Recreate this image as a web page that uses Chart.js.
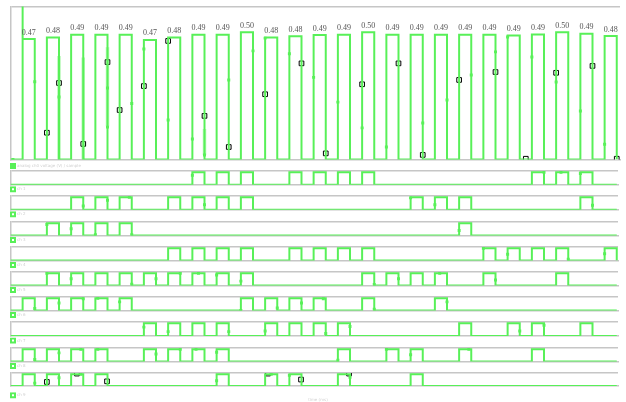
<!DOCTYPE html>
<html><head><meta charset="utf-8">
<script src="https://cdn.jsdelivr.net/npm/chart.js@4/dist/chart.umd.min.js"></script>
<style>
html,body{margin:0;padding:0;background:#fff;width:626px;height:402px;overflow:hidden}
#wrap{position:relative;width:626px;height:402px}
canvas{position:absolute;left:0}
</style></head><body>
<div id="wrap"></div>
<script>
// ---------- data ----------
const pulseLevels = [0.4725,0.478,0.489,0.489,0.489,0.469,0.478,0.489,0.489,0.499,0.478,0.483,0.488,0.489,0.499,0.489,0.489,0.489,0.489,0.489,0.486,0.490,0.499,0.493,0.484];
const pulseLabels = ['0.47','0.48','0.49','0.49','0.49','0.47','0.48','0.49','0.49','0.50','0.48','0.48','0.49','0.49','0.50','0.49','0.49','0.49','0.49','0.49','0.49','0.49','0.50','0.49','0.48'];
const spikeLevel = 0.62;
const greenTop = [[0.1,0],[1,0.305],[2,0.245],[4,0.28],[4,0.127],[5,0.22],[5.5,0.433],[6.5,0.155],[7.5,0.08],[8,0.018],[9,0.312],[10,0.426],[10.5,0.476],[11.5,0.415],[12.5,0.322],[13.5,0.225],[14.5,0.124],[15.5,0.049],[17,0.143],[18,0.233],[19,0.331],[20,0.422],[20.5,0.48],[21.5,0.402],[22.5,0.304],[23.5,0.19],[24.5,0.06]];
const blackTop = [[1.5,0.105],[2,0.30],[3,0.061],[4,0.382],[4.5,0.194],[5.5,0.288],[6.5,0.465],[8,0.171],[9,0.049],[10.5,0.256],[12,0.377],[13,0.024],[14.5,0.295],[16,0.377],[17,0.018],[18.5,0.312],[20,0.343],[21.25,0.003],[22.5,0.34],[24,0.367],[25,0.003]];
const topRanges = [[2,0,0.406],[3,0,0.40],[4,0.13,0.44],[8,0.018,0.12]];
const topTicksX = [0,2,4,6,8,10,12,14,16,18,20,22,24];

const channelNames = ['ch 1','ch 2','ch 3','ch 4','ch 5','ch 6','ch 7','ch 8','ch 9'];
const ch1 = [7,8,9,11,12,13,14,21,22,23];
const ch2 = [2,3,4,6,7,8,9,16,17,18,23];
const ch3 = [1,2,3,4,18];
const ch4 = [6,7,8,9,11,12,13,14,19,20,21,22,24];
const ch5 = [1,2,3,4,5,6,7,8,9,14,15,16,17,19,22];
const ch6 = [0,1,2,3,4,9,10,11,12,14,17];
const ch7 = [5,6,7,8,10,11,12,13,18,20,21,23];
const ch8 = [0,1,2,3,5,6,7,8,13,15,16,18,21];
const ch9 = [0,1,2,3,8,10,11,13,16];
const channels = [ch1,ch2,ch3,ch4,ch5,ch6,ch7,ch8,ch9];

const mk1 = [[7.5,0.75],[22,1],[22.7,1],[23.5,0.9]];
const mk2 = [[3,0.3],[4,0.75],[4.9,1],[8,0.4],[16.5,0.95],[17.5,0.4],[24,0.35]];
const mk3 = [[1.5,0.9],[2.5,0.55],[3.5,0.05],[5,0.05],[18.5,0.4]];
const mk4 = [[19.5,1],[20.5,0.5],[23,0.1],[24.5,0.55]];
const mk5 = [[1.5,1],[2.5,0.55],[5,0.1],[6,0.55],[7,1],[7.75,1],[8.5,0.85],[9.5,0.35],[15,0.07],[16,0.55],[17.7,1],[20,0.45]];
const mk6 = [[1,0.15],[2,0.6],[3,0.95],[3.6,1],[4.5,0.7],[9.5,0],[11,0.2],[12,0.6],[12.9,0.95],[15,0.1],[18,0.7]];
const mk7 = [[5.5,0.7],[6.5,0.35],[9,0.35],[10.5,0.4],[13,0.2],[14,0.75],[21,0.4],[22,0.85]];
const mk8 = [[1,0.15],[2,0.7],[2.9,1],[3.6,1],[6,0.6],[7,1],[7.65,1],[8.5,0.75],[13.5,0.1],[15.5,1],[16.5,0.55],[18.9,1]];
const mk9 = [[1,0.25],[2,0.7],[2.9,1],[8.5,0.45],[10.75,1],[11.5,0.9],[14,0.75]];
const channelMarks = [mk1,mk2,mk3,mk4,mk5,mk6,mk7,mk8,mk9];
const blackCh9 = [[1.5,0.35],[2.74,1.05],[3.98,0.4],[10.62,1.05],[11.98,0.55],[13.96,1.05]];

const rowTops = [169.3,194.3,220,245,270,295,320.7,346,370.7];

// ---------- style ----------
const GREEN = 'rgb(88,240,88)';
const LIGHTGREEN = 'rgba(88,240,88,0.45)';
const GRAY = '#c6c6c6';
const FAINT = '#cfcfcf';
const SLOT = 24.25; // px per slot (layout only)
Chart.defaults.font.family = 'DejaVu Sans';
Chart.defaults.animation = false;

const wrap = document.getElementById('wrap');
function makeCanvas(top, height){
  const c = document.createElement('canvas');
  c.width = 626; c.height = height;
  c.style.top = top + 'px';
  c.style.width = '626px'; c.style.height = height + 'px';
  wrap.appendChild(c);
  return c;
}
const pts = arr => arr.map(([x,y]) => ({x, y}));
const blackStyle = {showLine:false, pointStyle:'rect', pointRadius:3.3, backgroundColor:'#fff', borderColor:'#000', borderWidth:1};

// ---------- top analog chart ----------
const topData = [{x:0,y:0},{x:0.5,y:spikeLevel},{x:0.5,y:pulseLevels[0]},{x:1,y:0}];
for (let k = 1; k < pulseLevels.length; k++) { topData.push({x:k+0.5,y:pulseLevels[k]},{x:k+1,y:0}); }
const rangeData = [];
topRanges.forEach(([t,lo,hi]) => rangeData.push({x:t,y:lo},{x:t,y:hi},{x:t+0.01,y:null}));

const pulseLabelPlugin = {
  id:'pulseLabels',
  afterDatasetsDraw(chart){
    const {ctx, scales:{x,y}} = chart;
    ctx.save();
    ctx.font = '8px "Liberation Serif"';
    ctx.fillStyle = '#555';
    ctx.textAlign = 'center'; ctx.textBaseline = 'middle';
    pulseLevels.forEach((v,k) => ctx.fillText(pulseLabels[k], x.getPixelForValue(k+0.75), y.getPixelForValue(v) - 6.5));
    ctx.restore();
  }
};

(function(){
  const top = 6.5, bottom = 159.5, axisH = 3.5, legendH = 15;
  const H = 178;
  const c = makeCanvas(0, H);
  new Chart(c, {
    type:'line',
    data:{datasets:[
      {label:'analog ch0 voltage (V) / sample', data:topData, stepped:true, borderColor:GREEN, backgroundColor:GREEN, borderWidth:2, pointRadius:0, fill:false},
      {label:'r', data:rangeData, borderColor:LIGHTGREEN, borderWidth:3.5, pointRadius:0, fill:false},
      {label:'g', data:pts(greenTop), showLine:false, pointStyle:'rect', pointRadius:2.1, backgroundColor:GREEN, borderWidth:0},
      Object.assign({label:'b', data:pts(blackTop)}, blackStyle)
    ]},
    options:{
      responsive:false, devicePixelRatio:1, animation:false,
      layout:{padding:{top:top, left:10, right:626-620, bottom:H - bottom - axisH - legendH}},
      plugins:{
        tooltip:{enabled:false},
        legend:{display:true, position:'bottom', align:'start',
          labels:{boxWidth:4, boxHeight:4, padding:1, font:{size:4}, color:FAINT, filter:item => item.datasetIndex === 0}}
      },
      scales:{
        x:{type:'linear', min:0, max:(620-10.5)/SLOT,
          afterFit:s => { s.height = axisH; },
          afterBuildTicks:s => { s.ticks = topTicksX.map(v => ({value:v})); },
          grid:{display:false}, border:{display:true, color:GRAY, width:1.5},
          ticks:{font:{size:4}, color:FAINT, padding:1.5, maxRotation:0, autoSkip:false, callback:v => (v*0.5).toFixed(1)+' ms'}},
        y:{min:0, max:0.6,
          afterFit:s => { s.width = 0.5; },
          grid:{drawTicks:false, color:ctx => (ctx.tick && ctx.tick.value > 0.59) ? GRAY : 'transparent', lineWidth:1.5},
          border:{display:true, color:GRAY, width:1.5},
          ticks:{stepSize:0.1, font:{size:4}, color:FAINT, padding:1.5, callback:v => v.toFixed(3)}}
      }
    },
    plugins:[pulseLabelPlugin]
  });
})();

// ---------- digital channels ----------
rowTops.forEach((rowTop, i) => {
  const last = i === rowTops.length - 1;
  const canvasTop = Math.floor(rowTop) - 2;
  const padTop = rowTop - canvasTop;
  const plotH = 15.4, axisH = last ? 6.2 : 1.5, legendH = 15;
  const H = last ? 40 : 35;
  const padBottom = H - padTop - plotH - axisH - legendH;
  const high = channels[i];
  const data = [{x:0,y:0}];
  for (let k = 0; k < pulseLevels.length; k++) { data.push({x:k+0.5, y:high.includes(k) ? 1 : 0}, {x:k+1, y:0}); }
  const ds = [
    {label:channelNames[i], data, stepped:true, borderColor:GREEN, backgroundColor:'#fff', borderWidth:2, pointRadius:0, fill:false},
    {label:'m', data:pts(channelMarks[i]), showLine:false, pointStyle:'rect', pointRadius:2.1, backgroundColor:GREEN, borderWidth:0}
  ];
  if (last) ds.push(Object.assign({label:'b', data:pts(blackCh9)}, blackStyle));
  const c = makeCanvas(canvasTop, H);
  new Chart(c, {
    type:'line',
    data:{datasets:ds},
    options:{
      responsive:false, devicePixelRatio:1, animation:false,
      layout:{padding:{top:padTop, left:10, right:626-618, bottom:padBottom}},
      plugins:{
        tooltip:{enabled:false},
        legend:{display:true, position:'bottom', align:'start',
          labels:{boxWidth:4, boxHeight:4, padding:1, font:{size:4}, color:FAINT, filter:item => item.datasetIndex === 0}}
      },
      scales:{
        x:{type:'linear', min:0, max:(618-10.5)/SLOT,
          afterFit:s => { s.height = axisH; },
          grid:{display:false}, border:{display:true, color:GRAY, width:1.5},
          ticks:{display:false}},
        y:{min:0, max:1.1,
          afterFit:s => { s.width = 0.5; },
          afterBuildTicks:s => { s.ticks = [{value:0},{value:0.55},{value:1.1}]; },
          grid:{drawTicks:false, color:ctx => (ctx.tick && ctx.tick.value > 1.05) ? GRAY : 'transparent', lineWidth:1.5},
          border:{display:true, color:GRAY, width:1.5},
          ticks:{font:{size:4}, color:FAINT, padding:1.5, callback:v => v===0 ? '0' : (v>1 ? 'high' : 'mid')}}
      }
    },
    plugins: last ? [{id:'xtitle', afterDraw(chart){ const ctx=chart.ctx; ctx.save(); ctx.font='4px "DejaVu Sans"'; ctx.fillStyle=FAINT; ctx.textAlign='center'; ctx.textBaseline='middle'; ctx.fillText('time (ms)', 318, 399.5 - canvasTop); ctx.restore(); }}] : []
  });
});
</script>
</body></html>
